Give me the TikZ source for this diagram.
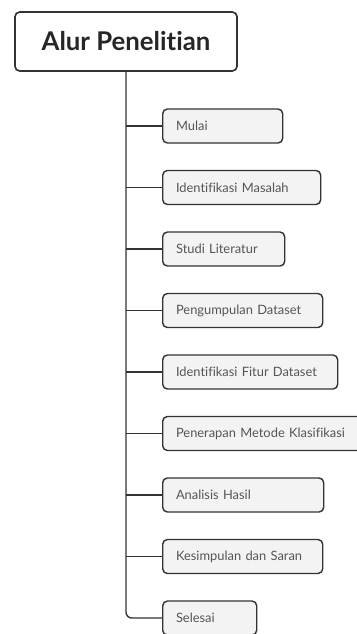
\documentclass[tikz,border=0pt]{standalone}
\usepackage{fontspec}
\setmainfont{Lato}[Ligatures=CommonOff]
\usetikzlibrary{positioning}

\definecolor{edgegray}{HTML}{333333}
\definecolor{boxfill}{HTML}{F3F3F3}
\definecolor{labelgray}{HTML}{555555}

\begin{document}
\begin{tikzpicture}[
  node distance=1.845cm,
  title/.style={rectangle, rounded corners=4pt, draw=edgegray, line width=1.4pt,
                fill=white, minimum width=6.66cm, minimum height=1.77cm,
                font=\fontsize{22}{24}\selectfont\bfseries, text=black!85},
  stage/.style={rectangle, rounded corners=4pt, draw=edgegray, line width=1.2pt,
                fill=boxfill, minimum height=1.02cm, inner xsep=0.4cm,
                align=left, font=\fontsize{11}{13}\selectfont, text=labelgray},
  trunk/.style={draw=edgegray, line width=1.2pt},
]
\useasboundingbox (0,0) rectangle (10.71,-19.02);
\node (alur) [title] at (3.78,-1.245) {Alur Penelitian};
\node (mulai)   [stage, text width=2.8cm, anchor=west] at (4.86,-3.78) {Mulai};
\node (masalah) [stage, text width=3.94cm, below=of mulai.west, anchor=west] {Identifikasi Masalah};
\node (studi)   [stage, text width=2.86cm, below=of masalah.west, anchor=west] {Studi Literatur};
\node (kumpul)  [stage, text width=4.0cm, below=of studi.west, anchor=west] {Pengumpulan Dataset};
\node (fitur)   [stage, text width=4.45cm, below=of kumpul.west, anchor=west] {Identifikasi Fitur Dataset};
\node (metode)  [stage, text width=5.4cm, below=of fitur.west, anchor=west] {Penerapan Metode Klasifikasi};
\node (hasil)   [stage, text width=4.03cm, below=of metode.west, anchor=west] {Analisis Hasil};
\node (saran)   [stage, text width=4.0cm, below=of hasil.west, anchor=west] {Kesimpulan dan Saran};
\node (selesai) [stage, text width=2.02cm, below=of saran.west, anchor=west] {Selesai};
% trunk down the left, ending in the last stage
\draw [trunk, rounded corners=5pt] (alur.south) |- (selesai.west);
% branches to each stage
\foreach \b in {mulai,masalah,studi,kumpul,fitur,metode,hasil,saran}
  \draw [trunk] (alur.south |- \b.west) -- (\b.west);
\end{tikzpicture}
\end{document}
